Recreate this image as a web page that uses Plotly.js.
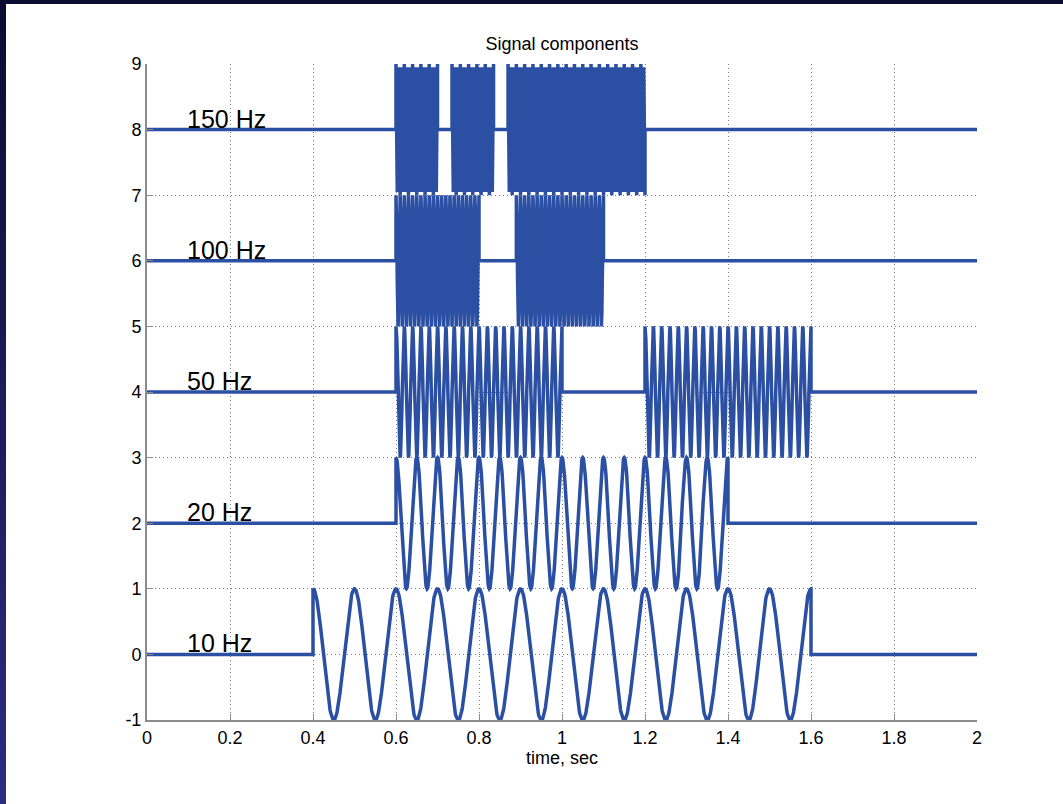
<!DOCTYPE html>
<html>
<head>
<meta charset="utf-8">
<script src="https://cdn.plot.ly/plotly-3.0.1.min.js"></script>
<style>
  html, body { margin:0; padding:0; background:#ffffff; }
  #wrap { position:relative; width:1063px; height:804px; background:#ffffff; overflow:hidden; }
  #topbar { position:absolute; left:0; top:0; width:1063px; height:4px; background:#0b0c30; z-index:2; }
  #leftbar { position:absolute; left:0; top:0; width:6px; height:804px; background:linear-gradient(#0b0c30, #2c2c82); z-index:2; }
  #chart { position:absolute; left:0; top:0; width:1063px; height:804px; }
</style>
</head>
<body>
<div id="wrap">
  <div id="chart"></div>
  <div id="topbar"></div>
  <div id="leftbar"></div>
</div>
<script>
// Components
const labels     = ['10 Hz', '20 Hz', '50 Hz', '100 Hz', '150 Hz'];
const freqsHz    = [10, 20, 50, 100, 150];
const offsets    = [0, 2, 4, 6, 8];
const amplitudes = [1, 1, 1, 1, 1];
// on-intervals (seconds) for each component
const onStarts = [[0.4], [0.6], [0.6, 1.2], [0.6, 0.89], [0.6, 0.735, 0.87]];
const onEnds   = [[1.6], [1.4], [1.0, 1.6], [0.8, 1.1],  [0.7, 0.835, 1.2]];
const sampleRate = 1000;   // samples per second
const tStart = 0, tEnd = 2;

const xTicks = [0, 0.2, 0.4, 0.6, 0.8, 1, 1.2, 1.4, 1.6, 1.8, 2];
const xTickText = ['0', '0.2', '0.4', '0.6', '0.8', '1', '1.2', '1.4', '1.6', '1.8', '2'];
const yTicks = [-1, 0, 1, 2, 3, 4, 5, 6, 7, 8, 9];
const yTickText = ['-1', '0', '1', '2', '3', '4', '5', '6', '7', '8', '9'];

const lineColor = '#2a4fa3';
const fontFam = 'Liberation Sans, Arial, sans-serif';
const traces = [];
const annotations = [];

for (let k = 0; k < labels.length; k++) {
  const xs = [], ys = [];
  const n = Math.round((tEnd - tStart) * sampleRate);
  const starts = onStarts[k], ends = onEnds[k];
  for (let i = 0; i <= n; i++) {
    const t = tStart + i / sampleRate;
    let v = offsets[k];
    for (let s = 0; s < starts.length; s++) {
      if (t >= starts[s] - 1e-9 && t <= ends[s] + 1e-9) {
        if (Math.abs(t - starts[s]) < 1e-9) { xs.push(t); ys.push(offsets[k]); }
        v = offsets[k] + amplitudes[k] * Math.cos(2 * Math.PI * freqsHz[k] * (t - starts[s]));
        if (Math.abs(t - ends[s]) < 1e-9) { xs.push(t); ys.push(v); v = offsets[k]; }
        break;
      }
    }
    xs.push(t); ys.push(v);
  }
  traces.push({
    type: 'scatter', mode: 'lines', x: xs, y: ys,
    line: { color: lineColor, width: 3.5 },
    hoverinfo: 'skip', showlegend: false
  });
  annotations.push({
    x: 0.095, y: offsets[k], xref: 'x', yref: 'y',
    text: labels[k], showarrow: false, borderpad: 0,
    xanchor: 'left', yanchor: 'bottom', yshift: -4,
    font: { family: fontFam, size: 25, color: '#000000' }
  });
}

const axisFont = { family: fontFam, size: 18, color: '#000000' };

const layout = {
  width: 1063, height: 804,
  paper_bgcolor: 'rgba(0,0,0,0)', plot_bgcolor: '#ffffff',
  margin: { l: 147, r: 86, t: 64, b: 84 },
  title: {
    text: 'Signal components',
    font: { family: fontFam, size: 18, color: '#000000' },
    x: 0.5, xref: 'paper', y: 1 - 44 / 804, yref: 'container', yanchor: 'middle'
  },
  xaxis: {
    range: [0, 2], tickmode: 'array', tickvals: xTicks, ticktext: xTickText,
    showgrid: true, gridcolor: '#7a7a7a', griddash: '1px,3px', gridwidth: 1,
    zeroline: false, showline: true, linecolor: '#8c8c8c', linewidth: 2,
    ticks: 'inside', ticklen: 6, tickcolor: '#8c8c8c',
    tickfont: axisFont,
    title: { text: 'time, sec', font: { family: fontFam, size: 18, color: '#000000' }, standoff: 2 }
  },
  yaxis: {
    range: [-1, 9], tickmode: 'array', tickvals: yTicks, ticktext: yTickText,
    showgrid: true, gridcolor: '#7a7a7a', griddash: '1px,3px', gridwidth: 1,
    zeroline: false, showline: true, linecolor: '#8c8c8c', linewidth: 2,
    ticks: 'inside', ticklen: 6, tickcolor: '#8c8c8c',
    tickfont: axisFont
  },
  annotations: annotations
};

Plotly.newPlot('chart', traces, layout, { staticPlot: true, displayModeBar: false });
</script>
</body>
</html>
